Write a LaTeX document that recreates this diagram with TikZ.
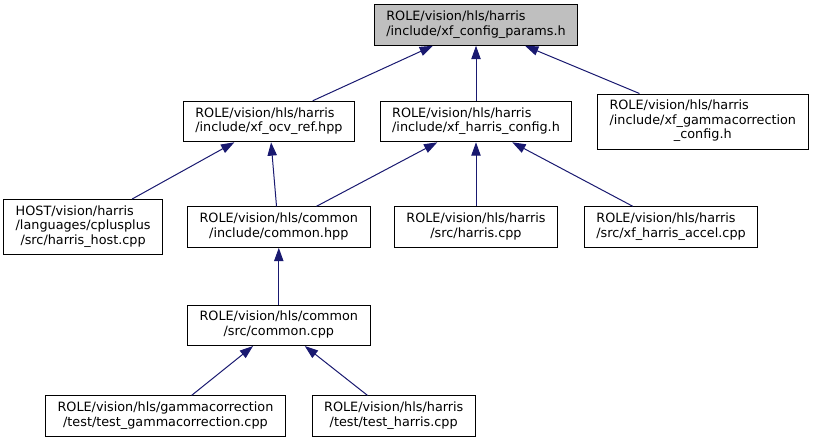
\documentclass[tikz,border=0pt]{standalone}
\usepackage{fontspec}
\setmainfont{DejaVu Sans}
\usepackage{tikz}
\usetikzlibrary{arrows.meta,positioning}
\definecolor{DocBlue}{HTML}{191970}
\definecolor{DocGray}{HTML}{BFBFBF}
\newcommand{\flbl}[2]{\begin{tabular}{@{}l@{}}#1\\\multicolumn{1}{@{}c@{}}{#2}\end{tabular}}
\tikzset{
  filebox/.style={rectangle,draw=black,line width=0.75pt,fill=white,inner xsep=9pt,inner ysep=4.3pt,font=\fontsize{9.6}{10.9}\selectfont},
  rootbox/.style={filebox,fill=DocGray},
  incarrow/.style={{Triangle[length=10pt,width=7pt]}-,line width=0.75pt,color=DocBlue},
}

\begin{document}
\begin{tikzpicture}[node distance=41.25pt and 18.5pt]
  \useasboundingbox (0,0) rectangle (611.25pt,-329.25pt);

  % Rank 0: the header itself
  \node[rootbox] (params) at (357pt,-18.75pt) {\flbl{ROLE/vision/hls/harris}{/include/xf\_config\_params.h}};

  % Rank 1: direct includers
  \node[filebox, below=of params] (hconfig) {\flbl{ROLE/vision/hls/harris}{/include/xf\_harris\_config.h}};
  \node[filebox, left=of hconfig] (ocvref) {\flbl{ROLE/vision/hls/harris}{/include/xf\_ocv\_ref.hpp}};
  \node[filebox, right=of hconfig] (gammacfg) {\flbl{ROLE/vision/hls/harris\\/include/xf\_gammacorrection}{\_config.h}};

  % Rank 2
  \node[filebox, below=48pt of hconfig] (harriscpp) {\flbl{ROLE/vision/hls/harris}{/src/harris.cpp}};
  \node[filebox, left=17.5pt of harriscpp] (commonhpp) {\flbl{ROLE/vision/hls/common}{/include/common.hpp}};
  \node[filebox, right=19.3pt of harriscpp] (accel) {\flbl{ROLE/vision/hls/harris}{/src/xf\_harris\_accel.cpp}};
  \node[filebox, left=18pt of commonhpp] (host) {\flbl{HOST/vision/harris\\/languages/cplusplus}{/src/harris\_host.cpp}};

  % Rank 3 and 4
  \node[filebox, below=42.5pt of commonhpp] (commoncpp) {\flbl{ROLE/vision/hls/common}{/src/common.cpp}};
  \node[filebox, below=37pt of commoncpp, xshift=-85pt] (testgamma) {\flbl{ROLE/vision/hls/gammacorrection}{/test/test\_gammacorrection.cpp}};
  \node[filebox, right=19.3pt of testgamma] (testharris) {\flbl{ROLE/vision/hls/harris}{/test/test\_harris.cpp}};

  % Edges into xf_config_params.h
  \draw[incarrow] ([xshift=-32.3pt]params.south) -- ([xshift=32.9pt]ocvref.north);
  \draw[incarrow] (hconfig.north |- params.south) -- (hconfig.north);
  \draw[incarrow] ([xshift=36.75pt]params.south) -- ([xshift=-47.5pt]gammacfg.north);
  % Edges into xf_ocv_ref.hpp
  \draw[incarrow] ([xshift=-25.9pt]ocvref.south) -- ([xshift=36.75pt]host.north);
  \draw[incarrow] ([xshift=1.65pt]ocvref.south) -- ([xshift=-1.7pt]commonhpp.north);
  % Edges into xf_harris_config.h
  \draw[incarrow] ([xshift=-29pt]hconfig.south) -- ([xshift=28.3pt]commonhpp.north);
  \draw[incarrow] (hconfig.south) -- (hconfig.south |- harriscpp.north);
  \draw[incarrow] ([xshift=27.2pt]hconfig.south) -- ([xshift=-28.7pt]accel.north);
  % Lower edges
  \draw[incarrow] (commonhpp) -- (commoncpp);
  \draw[incarrow] ([xshift=-19.3pt]commoncpp.south) -- ([xshift=19.65pt]testgamma.north);
  \draw[incarrow] ([xshift=19.5pt]commoncpp.south) -- ([xshift=-19.7pt]testharris.north);
\end{tikzpicture}
\end{document}
